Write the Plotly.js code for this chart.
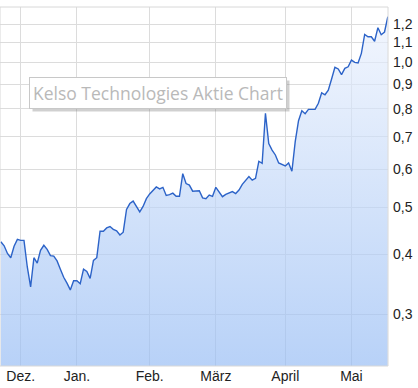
<!DOCTYPE html>
<html>
<head>
<meta charset="utf-8">
<script src="https://cdn.plot.ly/plotly-3.0.1.min.js"></script>
<style>
  html, body { margin: 0; padding: 0; background: #ffffff; }
  #chart { width: 418px; height: 388px; }
</style>
</head>
<body>
<div id="chart"></div>
<script>
// Kelso Technologies daily closes (trading-day index)
const prices = [
  0.424, 0.416, 0.401, 0.393, 0.415, 0.429, 0.427, 0.427, 0.376, 0.342,
  0.393, 0.383, 0.407, 0.417, 0.409, 0.397, 0.396, 0.387, 0.372, 0.358,
  0.348, 0.337, 0.352, 0.352, 0.347, 0.372, 0.368, 0.356, 0.388, 0.393,
  0.446, 0.446, 0.453, 0.456, 0.450, 0.447, 0.438, 0.444, 0.495, 0.509,
  0.515, 0.503, 0.489, 0.502, 0.521, 0.533, 0.543, 0.551, 0.546, 0.550,
  0.529, 0.531, 0.535, 0.527, 0.527, 0.587, 0.560, 0.556, 0.540, 0.540,
  0.541, 0.523, 0.521, 0.530, 0.527, 0.550, 0.538, 0.526, 0.532, 0.536,
  0.539, 0.534, 0.543, 0.558, 0.567, 0.579, 0.569, 0.574, 0.623, 0.617,
  0.783, 0.678, 0.657, 0.642, 0.618, 0.614, 0.609, 0.618, 0.594, 0.684,
  0.756, 0.793, 0.782, 0.798, 0.797, 0.798, 0.822, 0.864, 0.856, 0.875,
  0.923, 0.976, 0.968, 0.942, 0.971, 0.978, 1.010, 0.999, 0.996, 1.043,
  1.142, 1.129, 1.129, 1.105, 1.179, 1.140, 1.155, 1.243
];
const tradingDay = prices.map((_, i) => i);

// first trading day of each month (index) and month labels
const monthStartIdx = [6, 23, 45, 65, 86, 106];
const monthLabels = ['Dez.', 'Jan.', 'Feb.', 'März', 'April', 'Mai'];

// price axis ticks
const priceTicks = [0.3, 0.4, 0.5, 0.6, 0.7, 0.8, 0.9, 1.0, 1.1, 1.2, 1.3];
const priceTickLabels = ['0,3', '0,4', '0,5', '0,6', '0,7', '0,8', '0,9', '1,0', '1,1', '1,2', ''];

const chartTitle = 'Kelso Technologies Aktie Chart';

const trace = {
  x: tradingDay,
  y: prices,
  type: 'scatter',
  mode: 'lines',
  line: { color: '#2c63c8', width: 1.4 },
  fill: 'tozeroy',
  fillcolor: 'rgba(154,190,243,0.66)',
  fillgradient: {
    type: 'vertical',
    start: 0.2343,
    stop: 1.30,
    colorscale: [
      [0, 'rgba(150,188,244,0.68)'],
      [1, 'rgba(238,243,253,0.66)']
    ]
  },
  hoverinfo: 'skip'
};

const layout = {
  width: 418,
  height: 388,
  margin: { l: 0, r: 30, t: 7, b: 22, pad: 0 },
  paper_bgcolor: '#ffffff',
  plot_bgcolor: '#ffffff',
  showlegend: false,
  font: { family: 'Liberation Sans, Arial, sans-serif', size: 14, color: '#222222' },
  xaxis: {
    range: [-0.254, 117.05],
    tickmode: 'array',
    tickvals: monthStartIdx,
    ticktext: monthLabels,
    showgrid: true,
    gridcolor: '#dcdcdc',
    gridwidth: 1,
    zeroline: false,
    showline: false,
    ticks: '',
    tickfont: { size: 14, color: '#222222' },
    fixedrange: true
  },
  yaxis: {
    type: 'log',
    side: 'right',
    range: [Math.log10(0.2343), Math.log10(1.3015)],
    tickmode: 'array',
    tickvals: priceTicks,
    ticktext: priceTickLabels,
    ticklabelstandoff: 4,
    showgrid: true,
    gridcolor: '#dcdcdc',
    gridwidth: 1,
    zeroline: false,
    showline: false,
    ticks: '',
    tickfont: { size: 14, color: '#222222' },
    fixedrange: true
  },
  shapes: [
    {
      type: 'rect', xref: 'paper', yref: 'paper',
      x0: 0, x1: 1, y0: 0, y1: 1,
      line: { color: '#d8d8d8', width: 1 },
      fillcolor: 'rgba(0,0,0,0)',
      layer: 'above'
    }
  ],
  annotations: [
    {
      xref: 'paper', yref: 'paper',
      x: 0.0747, y: 0.7616,
      xanchor: 'left', yanchor: 'middle',
      text: chartTitle,
      showarrow: false,
      font: { family: 'Open Sans, sans-serif', size: 17.5, color: '#b9b9b9' },
      bgcolor: '#ffffff',
      bordercolor: '#c8c8c8',
      borderwidth: 1,
      borderpad: 3
    }
  ]
};

Plotly.newPlot('chart', [trace], layout, { displayModeBar: false, staticPlot: true }).then(function (gd) {
  // add a soft drop shadow behind the title box, sized from the drawn box
  const bg = gd.querySelector('.annotation .bg');
  if (!bg) return;
  const r = bg.getBoundingClientRect();
  const fs = gd._fullLayout._size;
  const toPx = (px) => (px - fs.l) / fs.w;
  const toPy = (py) => 1 - (py - fs.t) / fs.h;
  const shadow = {
    type: 'rect', xref: 'paper', yref: 'paper',
    x0: toPx(r.left + 3), x1: toPx(r.right + 3),
    y0: toPy(r.bottom + 3), y1: toPy(r.top + 3),
    line: { width: 0 },
    fillcolor: 'rgba(120,120,120,0.35)',
    layer: 'above'
  };
  Plotly.relayout(gd, { shapes: gd.layout.shapes.concat([shadow]) });
});
</script>
</body>
</html>
